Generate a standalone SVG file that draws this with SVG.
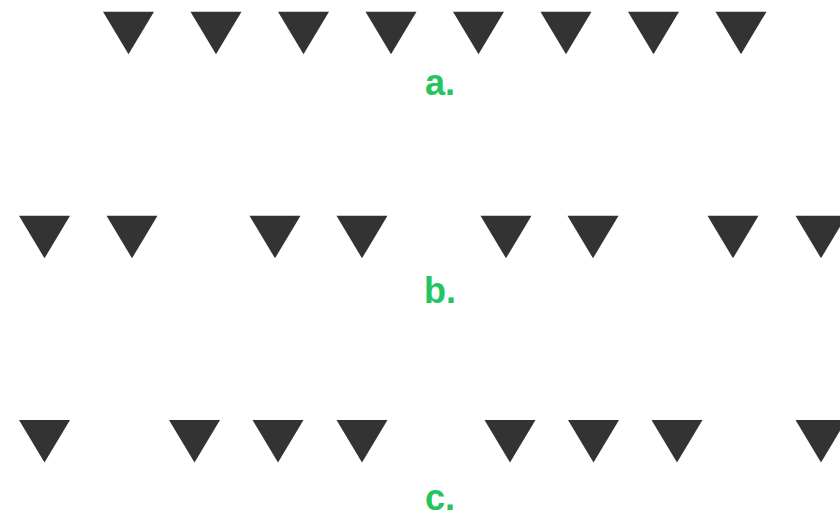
<svg xmlns="http://www.w3.org/2000/svg" xmlns:xlink="http://www.w3.org/1999/xlink" width="840" height="515" viewBox="0 0 840 515">
<style>
.tri{fill:#333333}
.lbl{font-family:"Liberation Sans",Arial,sans-serif;font-weight:bold;font-size:36px;fill:#22c55e;text-anchor:middle}
</style>
<defs>
<polygon id="t" class="tri" points="-25.5,0 25.5,0 0,42.5"/>
</defs>
<rect width="840" height="515" fill="#ffffff"/>
<g id="row-a">
<use xlink:href="#t" x="128.5" y="11.7"/>
<use xlink:href="#t" x="216" y="11.7"/>
<use xlink:href="#t" x="303.5" y="11.7"/>
<use xlink:href="#t" x="391" y="11.7"/>
<use xlink:href="#t" x="478.5" y="11.7"/>
<use xlink:href="#t" x="566" y="11.7"/>
<use xlink:href="#t" x="653.5" y="11.7"/>
<use xlink:href="#t" x="741" y="11.7"/>
</g>
<g id="label-a"><text class="lbl" x="440" y="95">a.</text></g>
<g id="row-b">
<use xlink:href="#t" x="44.5" y="215.8"/>
<use xlink:href="#t" x="132" y="215.8"/>
<use xlink:href="#t" x="275" y="215.8"/>
<use xlink:href="#t" x="362" y="215.8"/>
<use xlink:href="#t" x="506" y="215.8"/>
<use xlink:href="#t" x="593" y="215.8"/>
<use xlink:href="#t" x="733" y="215.8"/>
<use xlink:href="#t" x="821" y="215.8"/>
</g>
<g id="label-b"><text class="lbl" x="440" y="303">b.</text></g>
<g id="row-c">
<use xlink:href="#t" x="44.5" y="420"/>
<use xlink:href="#t" x="194.5" y="420"/>
<use xlink:href="#t" x="278" y="420"/>
<use xlink:href="#t" x="362" y="420"/>
<use xlink:href="#t" x="510" y="420"/>
<use xlink:href="#t" x="593.5" y="420"/>
<use xlink:href="#t" x="677" y="420"/>
<use xlink:href="#t" x="821" y="420"/>
</g>
<g id="label-c"><text class="lbl" x="440" y="510">c.</text></g>
</svg>
